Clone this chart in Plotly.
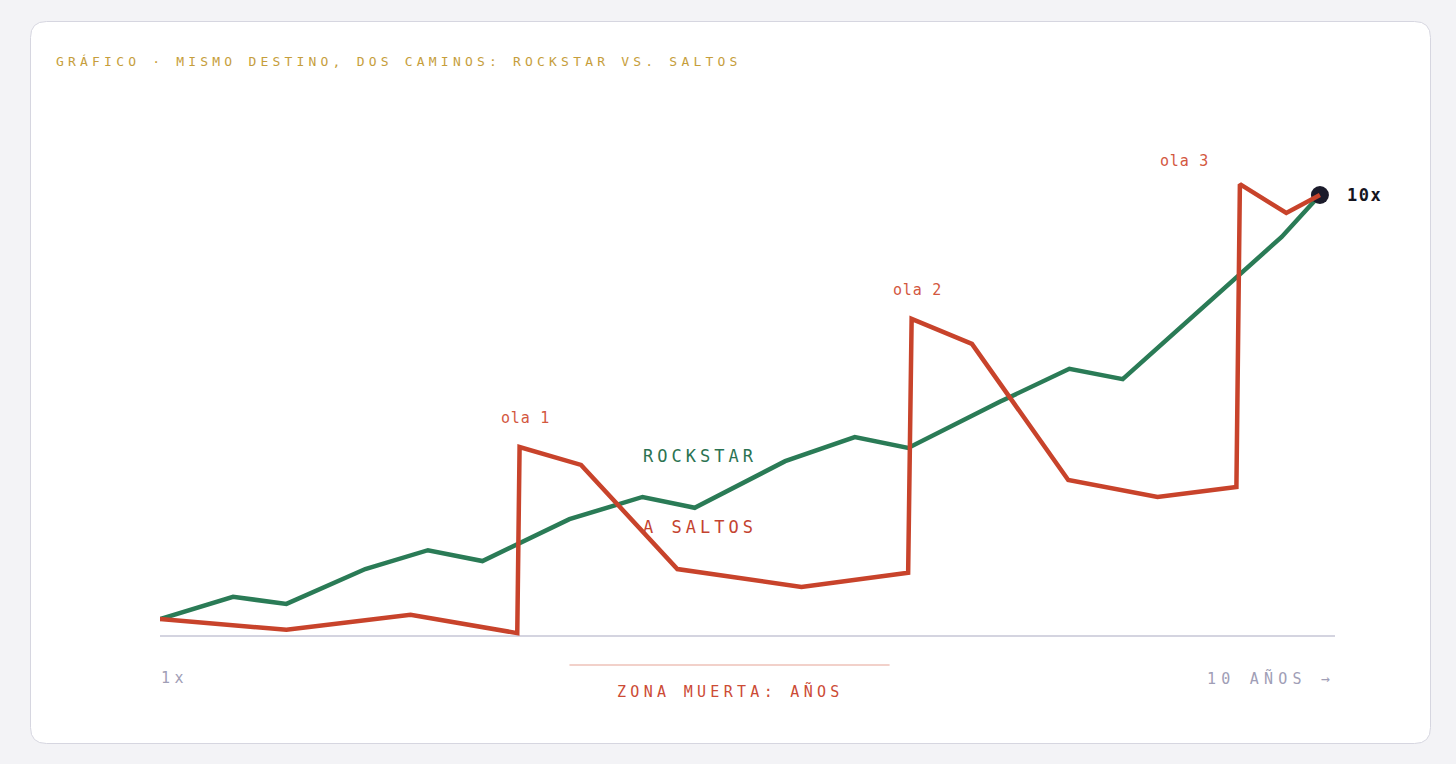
import plotly.graph_objects as go

# ---------------- data ----------------
title_text = "GRÁFICO · MISMO DESTINO, DOS CAMINOS: ROCKSTAR VS. SALTOS"
series_names = ["ROCKSTAR", "A SALTOS"]

rockstar_years = [0, 0.63, 1.09, 1.77, 2.31, 2.78, 3.53, 4.16, 4.61, 5.39,
                  5.99, 6.45, 7.24, 7.84, 8.30, 9.09, 9.67, 10]
rockstar_value = [1, 1.47, 1.32, 2.06, 2.46, 2.23, 3.12, 3.59, 3.36, 4.35,
                  4.86, 4.63, 5.61, 6.31, 6.09, 7.83, 9.11, 10]

saltos_years = [0, 1.09, 2.16, 3.08, 3.10, 3.63, 4.46, 5.53, 6.45, 6.48,
                7.00, 7.83, 8.60, 9.28, 9.31, 9.71, 10]
saltos_value = [1, 0.77, 1.09, 0.70, 4.65, 4.27, 2.06, 1.68, 1.98, 7.37,
                6.84, 3.95, 3.59, 3.80, 10.23, 9.62, 10]

wave_labels = ["ola 1", "ola 2", "ola 3"]
wave_peak_index = [4, 9, 14]

dead_zone_years = [3.53, 6.29]
dead_zone_label = "ZONA MUERTA: AÑOS"
start_label = "1x"
end_label = "10x"
axis_end_label = "10 AÑOS →"

# ---------------- style ----------------
W, H = 1456, 764
ML, MR, MT, MB = 160, 121, 150, 128
X_RANGE = [0, 10.13]
Y_RANGE = [0.639, 10.955]
PW, PH = W - ML - MR, H - MT - MB

BG = "#f3f3f6"
GREEN = "#2a7b56"
GREEN_TXT = "#2b7352"
RED = "#c8432b"
RED_TXT = "#c4432f"
RED_LABEL = "#d3583f"
GOLD = "#c69e3b"
GRAY = "#a09eb6"
MONO = "DejaVu Sans Mono"


def pxp(px):
    return (px - ML) / PW


def pyp(py):
    return (H - MB - py) / PH


def spaced(text, ls):
    return f'<span style="letter-spacing:{ls}px">{text}</span>'


fig = go.Figure()

fig.add_trace(go.Scatter(
    x=rockstar_years, y=rockstar_value, mode="lines", name=series_names[0],
    line=dict(color=GREEN, width=4.5), showlegend=False))

# end dot
fig.add_trace(go.Scatter(
    x=[rockstar_years[-1]], y=[rockstar_value[-1]], mode="markers",
    marker=dict(size=18, color="#1b1b2b"), hoverinfo="skip", showlegend=False))

fig.add_trace(go.Scatter(
    x=saltos_years, y=saltos_value, mode="lines", name=series_names[1],
    line=dict(color=RED, width=4.5), showlegend=False))

shapes = []
# card
x0, x1 = pxp(30.5), pxp(1430.5)
y0, y1 = pyp(21.5), pyp(743.5)
rx, ry = 16 / PW, 16 / PH
path = (f"M {x0+rx},{y0} L {x1-rx},{y0} Q {x1},{y0} {x1},{y0-ry} "
        f"L {x1},{y1+ry} Q {x1},{y1} {x1-rx},{y1} "
        f"L {x0+rx},{y1} Q {x0},{y1} {x0},{y1+ry} "
        f"L {x0},{y0-ry} Q {x0},{y0} {x0+rx},{y0} Z")
shapes.append(dict(type="path", xref="paper", yref="paper", path=path,
                   fillcolor="white", line=dict(color="#d6d6e0", width=1),
                   layer="below"))
# baseline
shapes.append(dict(type="line", xref="paper", yref="paper", x0=0, x1=1, y0=0, y1=0,
                   line=dict(color="#c6c6d6", width=1.5), layer="below"))
# dead zone line
shapes.append(dict(type="line", xref="x", yref="paper",
                   x0=dead_zone_years[0], x1=dead_zone_years[1],
                   y0=pyp(665), y1=pyp(665),
                   line=dict(color="#e6a396", width=1.2), layer="below"))

ann = []
ann.append(dict(xref="paper", yref="paper", x=pxp(54), y=pyp(61),
                xanchor="left", yanchor="middle", showarrow=False,
                text=spaced(title_text, 4.2),
                font=dict(family=MONO, size=13, color=GOLD)))

shifts = [(6, 29), (6, 29), (-55, 23)]
for lab, idx, (dx, dy) in zip(wave_labels, wave_peak_index, shifts):
    ann.append(dict(x=saltos_years[idx], y=saltos_value[idx], xshift=dx, yshift=dy,
                    xanchor="center", yanchor="middle", showarrow=False,
                    text=spaced(lab, 0.8),
                    font=dict(family=MONO, size=15, color=RED_LABEL)))

ann.append(dict(xref="paper", yref="paper", x=pxp(641), y=pyp(456),
                xanchor="left", yanchor="middle", showarrow=False,
                text=spaced(series_names[0], 4.0),
                font=dict(family=MONO, size=17, color=GREEN_TXT)))
ann.append(dict(xref="paper", yref="paper", x=pxp(641), y=pyp(527),
                xanchor="left", yanchor="middle", showarrow=False,
                text=spaced(series_names[1], 4.0),
                font=dict(family=MONO, size=17, color=RED_TXT)))

ann.append(dict(x=rockstar_years[-1], y=rockstar_value[-1], xshift=25,
                xanchor="left", yanchor="middle", showarrow=False,
                text=spaced(f"<b>{end_label}</b>", 1.5),
                font=dict(family=MONO, size=17, color="#15151f")))

ann.append(dict(xref="paper", yref="paper", x=pxp(159), y=pyp(678),
                xanchor="left", yanchor="middle", showarrow=False,
                text=spaced(start_label, 4.5),
                font=dict(family=MONO, size=15, color=GRAY)))
ann.append(dict(xref="paper", yref="paper", x=pxp(1337), y=pyp(678),
                xanchor="right", yanchor="middle", showarrow=False,
                text=spaced(axis_end_label, 5.2),
                font=dict(family=MONO, size=15, color=GRAY)))
ann.append(dict(x=sum(dead_zone_years) / 2, xref="x", yref="paper", y=pyp(691),
                xshift=1, xanchor="center", yanchor="middle", showarrow=False,
                text=spaced(dead_zone_label, 4.3),
                font=dict(family=MONO, size=15, color="#cc4b35")))

fig.update_layout(
    width=W, height=H,
    margin=dict(l=ML, r=MR, t=MT, b=MB, pad=0),
    paper_bgcolor=BG, plot_bgcolor="rgba(0,0,0,0)",
    xaxis=dict(range=X_RANGE, visible=False, fixedrange=True),
    yaxis=dict(range=Y_RANGE, visible=False, fixedrange=True),
    shapes=shapes, annotations=ann, showlegend=False,
)

fig.write_html(
    "out.html",
    config={"displayModeBar": False},
    post_script=f"document.body.style.margin='0';document.body.style.background='{BG}';"
                "document.body.style.overflow='hidden';",
)
